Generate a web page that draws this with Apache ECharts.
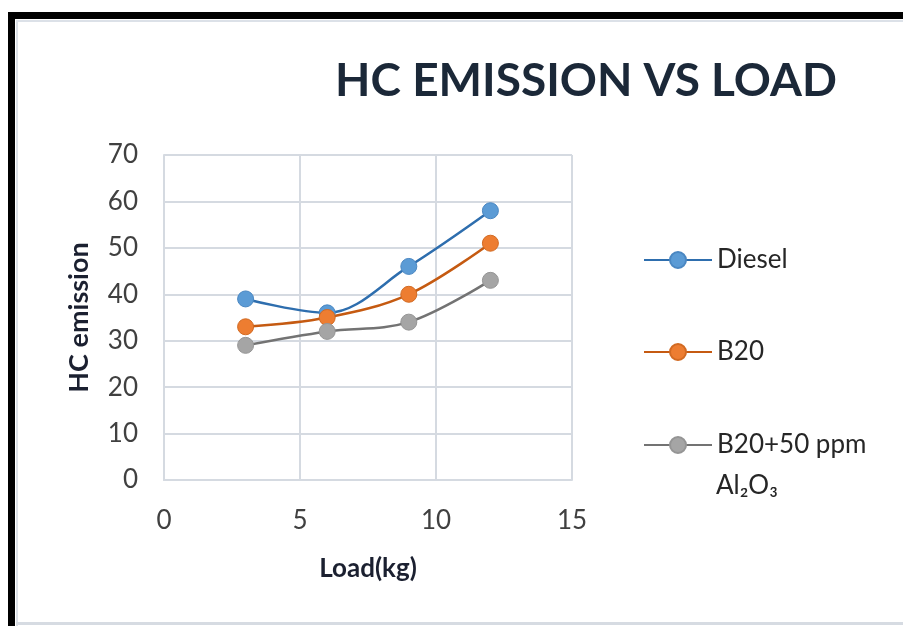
<!DOCTYPE html>
<html>
<head>
<meta charset="utf-8">
<script src="https://cdn.jsdelivr.net/npm/echarts@6/dist/echarts.min.js"></script>
<style>
  html, body { margin: 0; padding: 0; background: #ffffff; }
  #chart { width: 903px; height: 626px; }
</style>
</head>
<body>
<div id="chart"></div>
<script>
// Load steps (kg) and HC emission readings per fuel
const loads = [3, 6, 9, 12];
const diesel = [39, 36, 46, 58];
const b20 = [33, 35, 40, 51];
const b20Al2O3 = [29, 32, 34, 43];

const seriesNames = ['Diesel', 'B20', 'B20+50 ppm Al₂O₃'];
const xTicks = [0, 5, 10, 15];
const yTicks = [0, 10, 20, 30, 40, 50, 60, 70];

const pairs = (ys) => loads.map((x, i) => [x, ys[i]]);

const FONT = 'Lato, "Open Sans", "DejaVu Sans", sans-serif';
const TEXT_SIZE = 26;

const styles = [
  { line: '#2E6EAE', fill: '#5B9BD5', border: '#4A87C2' },
  { line: '#C55A11', fill: '#ED7D31', border: '#D26A22' },
  { line: '#737373', fill: '#A5A5A5', border: '#959595' }
];

function makeSeries(name, ys, s) {
  return {
    name: name,
    type: 'line',
    data: pairs(ys),
    smooth: 0.35,
    symbol: 'circle',
    symbolSize: 16,
    lineStyle: { color: s.line, width: 2.5 },
    itemStyle: { color: s.fill, borderColor: s.border, borderWidth: 1 },
    emphasis: { disabled: true }
  };
}

function legendBlock(name, top, extra) {
  return Object.assign({
    data: [name],
    orient: 'vertical',
    left: 643,
    top: top,
    padding: 0,
    itemWidth: 68,
    itemHeight: 20,
    selectedMode: false,
    textStyle: { fontFamily: FONT, fontSize: TEXT_SIZE, color: '#262626' }
  }, extra || {});
}

const chart = echarts.init(document.getElementById('chart'), null, { renderer: 'canvas' });

chart.setOption({
  animation: false,
  backgroundColor: '#ffffff',
  title: {
    text: 'HC EMISSION VS LOAD',
    left: 581,
    top: 53,
    textAlign: 'center',
    textStyle: { fontFamily: FONT, fontWeight: 'bold', fontSize: 46, color: '#1B2838' }
  },
  graphic: [
    // outer frame: black bars along top and left, faint inner rule
    { type: 'rect', shape: { x: 8, y: 12, width: 895, height: 7 }, style: { fill: '#000000' } },
    { type: 'rect', shape: { x: 8, y: 12, width: 7, height: 614 }, style: { fill: '#000000' } },
    { type: 'line', shape: { x1: 16, y1: 21, x2: 903, y2: 21 }, style: { stroke: '#DCE1E8', lineWidth: 2 } },
    { type: 'line', shape: { x1: 17, y1: 21, x2: 17, y2: 626 }, style: { stroke: '#DCE1E8', lineWidth: 2 } },
    { type: 'line', shape: { x1: 16, y1: 623.5, x2: 903, y2: 623.5 }, style: { stroke: '#D6DBE2', lineWidth: 3 } },
    // second line of the third legend label
    { type: 'text', x: 716, y: 486,
      style: { text: 'Al₂O₃', font: TEXT_SIZE + 'px ' + FONT, fill: '#262626', verticalAlign: 'middle' } }
  ],
  legend: [
    legendBlock(seriesNames[0], 247),
    legendBlock(seriesNames[1], 339),
    legendBlock(seriesNames[2], 432, { formatter: () => 'B20+50 ppm' })
  ],
  grid: { left: 164, right: 331, top: 155, bottom: 146, containLabel: false },
  xAxis: {
    type: 'value',
    min: 0,
    max: 15,
    interval: 5,
    name: 'Load(kg)',
    nameLocation: 'middle',
    nameGap: 76,
    nameTextStyle: { fontFamily: FONT, fontWeight: 'bold', fontSize: TEXT_SIZE, color: '#1B2030' },
    axisLine: { show: true, lineStyle: { color: '#D5DAE1', width: 2 } },
    axisTick: { show: false },
    axisLabel: { fontFamily: FONT, fontSize: TEXT_SIZE, color: '#404040', margin: 28,
      formatter: (v) => xTicks.includes(v) ? String(v) : '' },
    splitLine: { show: true, lineStyle: { color: '#D5DAE1', width: 2 } }
  },
  yAxis: {
    type: 'value',
    min: 0,
    max: 70,
    interval: 10,
    name: 'HC emission',
    nameLocation: 'middle',
    nameGap: 71,
    nameRotate: 90,
    nameTextStyle: { fontFamily: FONT, fontWeight: 'bold', fontSize: 27, color: '#1B2030' },
    axisLine: { show: true, lineStyle: { color: '#D5DAE1', width: 2 } },
    axisTick: { show: false },
    axisLabel: { fontFamily: FONT, fontSize: TEXT_SIZE, color: '#404040', margin: 26,
      formatter: (v) => yTicks.includes(v) ? String(v) : '' },
    splitLine: { show: true, lineStyle: { color: '#D5DAE1', width: 2 } }
  },
  series: [
    makeSeries(seriesNames[0], diesel, styles[0]),
    makeSeries(seriesNames[1], b20, styles[1]),
    makeSeries(seriesNames[2], b20Al2O3, styles[2])
  ]
});
</script>
</body>
</html>
